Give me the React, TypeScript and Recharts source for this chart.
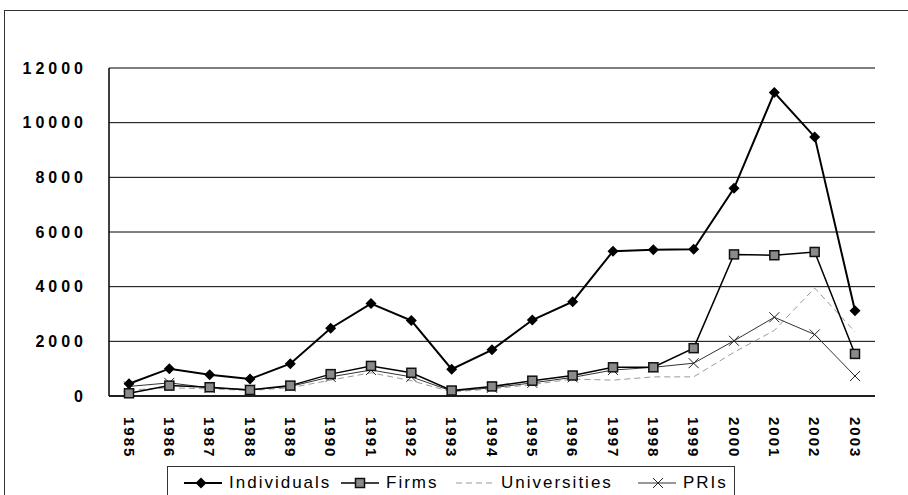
import React from 'react'
import { LineChart, Line, XAxis, YAxis, CartesianGrid, Legend } from 'recharts'

const YEARS = ['1985', '1986', '1987', '1988', '1989', '1990', '1991', '1992', '1993', '1994', '1995', '1996', '1997', '1998', '1999', '2000', '2001', '2002', '2003']
const INDIVIDUALS = [450, 1000, 780, 620, 1180, 2480, 3380, 2760, 980, 1690, 2780, 3450, 5300, 5350, 5370, 7600, 11100, 9480, 3120]
const FIRMS = [100, 380, 320, 220, 380, 800, 1100, 850, 200, 350, 560, 750, 1050, 1050, 1750, 5180, 5150, 5270, 1540]
const UNIVERSITIES = [220, 300, 260, 200, 300, 580, 850, 560, 150, 260, 420, 620, 580, 700, 700, 1600, 2400, 3950, 2350]
const PRIS = [350, 480, 300, 230, 350, 700, 950, 700, 180, 300, 480, 680, 950, 1050, 1200, 2020, 2880, 2250, 730]
const Y_TICKS = [0, 2000, 4000, 6000, 8000, 10000, 12000]

const data = YEARS.map((year, i) => ({
  year,
  individuals: INDIVIDUALS[i],
  firms: FIRMS[i],
  universities: UNIVERSITIES[i],
  pris: PRIS[i],
}))

const FONT = '"Liberation Sans", Arial, sans-serif'

// marker shapes
const Diamond = ({ cx, cy }: any) => {
  if (cx == null || cy == null) return null
  const s = 5.5
  return <polygon points={`${cx},${cy - s} ${cx + s},${cy} ${cx},${cy + s} ${cx - s},${cy}`} fill="#000" />
}

const Square = ({ cx, cy }: any) => {
  if (cx == null || cy == null) return null
  return <rect x={cx - 4.5} y={cy - 4.5} width={9} height={9} fill="#8a8a8a" stroke="#111" strokeWidth={1.5} />
}

const Cross = ({ cx, cy }: any) => {
  if (cx == null || cy == null) return null
  const s = 5
  return (
    <g stroke="#222" strokeWidth={1}>
      <line x1={cx - s} y1={cy - s} x2={cx + s} y2={cy + s} />
      <line x1={cx - s} y1={cy + s} x2={cx + s} y2={cy - s} />
    </g>
  )
}

const YearTick = ({ x, y, payload }: any) => (
  <text
    transform={`translate(${x},${y + 13}) rotate(90)`}
    fontSize={15}
    fontWeight="bold"
    letterSpacing={2}
    fontFamily={FONT}
    dominantBaseline="central"
    textAnchor="start"
    fill="#000"
  >
    {payload.value}
  </text>
)

const legendItems = [
  { label: 'Individuals', left: 16, kind: 'diamond' },
  { label: 'Firms', left: 173, kind: 'square' },
  { label: 'Universities', left: 288, kind: 'dash' },
  { label: 'PRIs', left: 470, kind: 'cross' },
]

const LegendIcon = ({ kind }: { kind: string }) => (
  <svg width={38} height={14} style={{ marginRight: 7 }}>
    {kind === 'dash' ? (
      <line x1={0} y1={7} x2={38} y2={7} stroke="#999" strokeDasharray="6 4" />
    ) : (
      <line x1={0} y1={7} x2={38} y2={7} stroke={kind === 'cross' ? '#333' : '#000'} strokeWidth={kind === 'diamond' ? 2 : kind === 'square' ? 1.5 : 1} />
    )}
    {kind === 'diamond' && <Diamond cx={17} cy={7} />}
    {kind === 'square' && <Square cx={19} cy={7} />}
    {kind === 'cross' && <Cross cx={20} cy={7} />}
  </svg>
)

const LegendBox = () => (
  <div style={{ position: 'relative', width: '100%', height: '100%', fontFamily: FONT, fontSize: 17, letterSpacing: 2, color: '#000' }}>
    {legendItems.map((it) => (
      <div key={it.label} style={{ position: 'absolute', left: it.left, top: 6, display: 'flex', alignItems: 'center', whiteSpace: 'nowrap' }}>
        <LegendIcon kind={it.kind} />
        <span>{it.label}</span>
      </div>
    ))}
  </div>
)

export default function App() {
  return (
    <div style={{ position: 'absolute', left: 0, top: 0, width: 908, height: 495, overflow: 'hidden', background: '#fff' }}>
      {/* outer frame of the scanned figure */}
      <div style={{ position: 'absolute', left: 4, top: 10, width: 920, height: 500, borderLeft: '1px solid #333', borderTop: '1px solid #333' }} />
      <LineChart width={908} height={495} data={data} margin={{ top: 68, right: 33, left: 0, bottom: 0 }}>
        <CartesianGrid vertical={false} stroke="#000" strokeWidth={1} />
        <XAxis
          dataKey="year"
          height={99}
          interval={0}
          padding={{ left: 20, right: 20 }}
          tick={<YearTick />}
          tickLine={false}
          axisLine={{ stroke: '#000', strokeWidth: 1.5 }}
        />
        <YAxis
          width={109}
          domain={[0, 12000]}
          ticks={Y_TICKS}
          tickSize={0}
          tickMargin={22}
          tickLine={false}
          axisLine={{ stroke: '#000', strokeWidth: 1.5 }}
          tick={{ fontSize: 16, fontWeight: 'bold', fill: '#000', fontFamily: FONT, letterSpacing: 4 }}
        />
        <YAxis
          yAxisId="frame"
          orientation="right"
          width={0}
          domain={[0, 12000]}
          tick={false}
          tickLine={false}
          axisLine={{ stroke: '#000', strokeWidth: 1 }}
        />
        <Line dataKey="universities" stroke="#9a9a9a" strokeWidth={1} strokeDasharray="6 4" dot={false} activeDot={false} isAnimationActive={false} />
        <Line dataKey="pris" stroke="#333" strokeWidth={1} dot={<Cross />} activeDot={false} isAnimationActive={false} />
        <Line dataKey="firms" stroke="#000" strokeWidth={1.5} dot={<Square />} activeDot={false} isAnimationActive={false} />
        <Line dataKey="individuals" stroke="#000" strokeWidth={2} dot={<Diamond />} activeDot={false} isAnimationActive={false} />
        <Legend
          layout="horizontal"
          verticalAlign="middle"
          align="center"
          content={<LegendBox />}
          wrapperStyle={{ position: 'absolute', left: 167, top: 466, width: 568, height: 34, border: '1px solid #333', boxSizing: 'border-box', background: '#fff' }}
        />
      </LineChart>
    </div>
  )
}
